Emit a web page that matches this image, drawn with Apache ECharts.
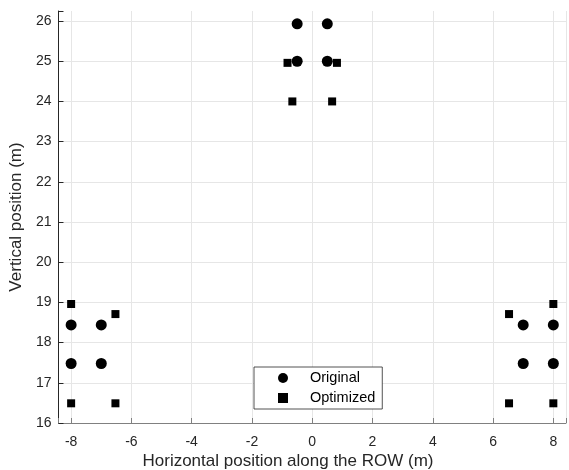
<!DOCTYPE html>
<html>
<head>
<meta charset="utf-8">
<script src="https://cdn.jsdelivr.net/npm/echarts@6/dist/echarts.min.js"></script>
<style>
  html, body { margin: 0; padding: 0; background: #fff; }
  #chart { width: 569px; height: 470px; }
</style>
</head>
<body>
<div id="chart"></div>
<script>
// conductor positions
const origX = [-0.5, 0.5, -0.5, 0.5, -8, -7, -8, -7, 7, 8, 7, 8];
const origY = [25.93, 25.93, 25, 25, 18.44, 18.44, 17.48, 17.48, 18.44, 18.44, 17.48, 17.48];
const optX = [-0.82, 0.82, -0.66, 0.66, -8, -6.53, -8, -6.53, 6.53, 8, 6.53, 8];
const optY = [24.96, 24.96, 24, 24, 18.96, 18.71, 16.49, 16.49, 18.71, 18.96, 16.49, 16.49];
const seriesNames = ['Original', 'Optimized'];
const yTicks = [16, 17, 18, 19, 20, 21, 22, 23, 24, 25, 26, 26.25];

const textColor = '#262626';
const gridColor = '#e6e6e6';
const font = 'Liberation Sans, Arial, sans-serif';

function pairs(xs, ys) {
    return xs.map((x, i) => [x, ys[i]]);
}

// no grid line on the top edge (26.25 is not a real tick)
const yGridColors = yTicks.map(v => Number.isInteger(v) ? gridColor : 'transparent');

const chart = echarts.init(document.getElementById('chart'));
chart.setOption({
    animation: false,
    textStyle: { fontFamily: font },
    grid: { left: 57, top: 11, width: 522, height: 412 },
    xAxis: {
        type: 'value',
        min: -8.42,
        max: 8.42,
        splitNumber: 8,
        axisLine: { show: true, onZero: false, lineStyle: { color: '#808080', width: 1 } },
        axisTick: { show: true, inside: true, length: 5, lineStyle: { color: '#808080' } },
        axisLabel: {
            color: textColor, fontSize: 14, margin: 12,
            formatter: v => Number.isInteger(v) ? String(v) : ''
        },
        splitLine: { show: true, lineStyle: { color: gridColor, width: 1 } }
    },
    yAxis: {
        type: 'value',
        min: yTicks[0],
        max: yTicks[yTicks.length - 1],
        interval: 1,
        name: 'Vertical position (m)',
        nameLocation: 'middle',
        nameGap: 31,
        nameTextStyle: { color: textColor, fontSize: 17 },
        axisLine: { show: true, onZero: false, lineStyle: { color: '#262626', width: 1 } },
        axisTick: { show: true, inside: true, length: 5, lineStyle: { color: '#262626' } },
        axisLabel: {
            color: textColor, fontSize: 14, margin: 7,
            formatter: v => Number.isInteger(v) ? String(v) : ''
        },
        splitLine: { show: true, lineStyle: { color: yGridColors, width: 1 } }
    },
    legend: {
        orient: 'vertical',
        left: 254,
        top: 367,
        padding: [3, 7, 3, 24],
        itemGap: 4,
        itemWidth: 10,
        itemHeight: 10,
        backgroundColor: '#fff',
        borderColor: '#262626',
        borderWidth: 0.8,
        borderRadius: 0,
        textStyle: { color: '#000', fontSize: 14.5, lineHeight: 16, padding: [0, 0, 0, 17] },
        data: [
            { name: seriesNames[0], icon: 'circle' },
            { name: seriesNames[1], icon: 'rect' }
        ]
    },
    graphic: [{
        type: 'text',
        x: 288,
        y: 461,
        style: {
            text: 'Horizontal position along the ROW (m)',
            fill: textColor,
            font: '17px ' + font,
            align: 'center',
            verticalAlign: 'middle'
        }
    }],
    series: [
        {
            name: seriesNames[0],
            type: 'scatter',
            symbol: 'circle',
            symbolSize: 11,
            itemStyle: { color: '#000', opacity: 1 },
            data: pairs(origX, origY)
        },
        {
            name: seriesNames[1],
            type: 'scatter',
            symbol: 'rect',
            symbolSize: 8,
            itemStyle: { color: '#000', opacity: 1 },
            data: pairs(optX, optY)
        }
    ]
});
</script>
</body>
</html>
